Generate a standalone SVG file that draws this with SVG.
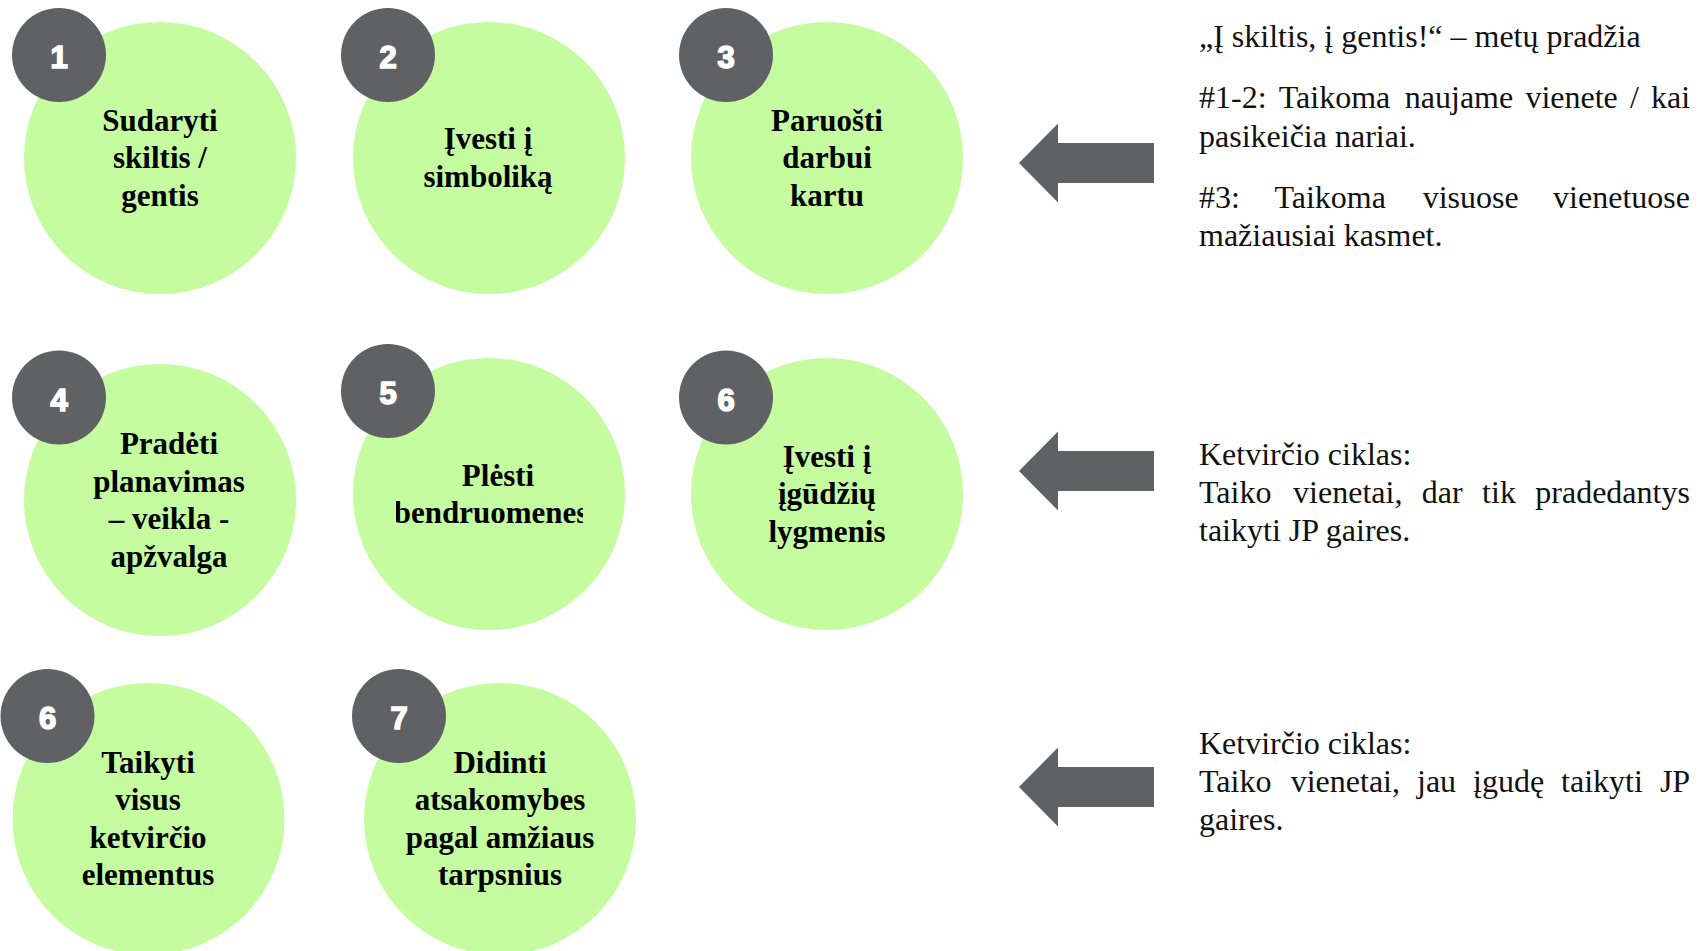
<svg xmlns="http://www.w3.org/2000/svg" width="1704" height="951" viewBox="0 0 1704 951">
  <style>
    .disc { fill: #c6fca0; }
    .badge { fill: #606164; }
    .num { font-family: "Liberation Sans", Arial, sans-serif; font-weight: bold; font-size: 31px; fill: #ffffff; stroke: #ffffff; stroke-width: 1.6; text-anchor: middle; }
    .lbl { font-family: "Liberation Serif", "Times New Roman", serif; font-weight: bold; font-size: 31px; fill: #000000; text-anchor: middle; }
    .note { font-family: "Liberation Serif", "Times New Roman", serif; font-size: 32px; fill: #111111; }
    .arrow { fill: #606164; }
  </style>
  <defs>
    <path id="leftArrow" d="M1019,163 L1058,123.5 L1058,143 L1154,143 L1154,183 L1058,183 L1058,202.5 Z"/>
    <clipPath id="clip5">
      <rect x="396" y="440" width="187" height="105"/>
    </clipPath>
  </defs>

  <rect width="1704" height="951" fill="#ffffff"/>

  <!-- Row 1 -->
  <g id="step1">
    <circle class="disc" cx="160" cy="158" r="136"/>
    <circle class="badge" cx="59" cy="55" r="47"/>
    <text class="num" x="59" y="68">1</text>
    <text class="lbl"><tspan x="160" y="130.5">Sudaryti</tspan><tspan x="160" y="168">skiltis /</tspan><tspan x="160" y="205.5">gentis</tspan></text>
  </g>
  <g id="step2">
    <circle class="disc" cx="489" cy="158" r="136"/>
    <circle class="badge" cx="388" cy="55" r="47"/>
    <text class="num" x="388" y="68">2</text>
    <text class="lbl"><tspan x="488" y="149.3">Įvesti į</tspan><tspan x="488" y="186.8">simboliką</tspan></text>
  </g>
  <g id="step3">
    <circle class="disc" cx="827" cy="158" r="136"/>
    <circle class="badge" cx="726" cy="55" r="47"/>
    <text class="num" x="726" y="68">3</text>
    <text class="lbl"><tspan x="827" y="130.5">Paruošti</tspan><tspan x="827" y="168">darbui</tspan><tspan x="827" y="205.5">kartu</tspan></text>
  </g>

  <!-- Row 2 -->
  <g id="step4">
    <circle class="disc" cx="160" cy="500" r="136"/>
    <circle class="badge" cx="59" cy="397.5" r="47"/>
    <text class="num" x="59" y="410.5">4</text>
    <text class="lbl"><tspan x="169" y="454">Pradėti</tspan><tspan x="169" y="491.5">planavimas</tspan><tspan x="169" y="529">– veikla -</tspan><tspan x="169" y="566.5">apžvalga</tspan></text>
  </g>
  <g id="step5">
    <circle class="disc" cx="489" cy="494" r="136"/>
    <circle class="badge" cx="388" cy="391" r="47"/>
    <text class="num" x="388" y="404">5</text>
    <text class="lbl" clip-path="url(#clip5)"><tspan x="498" y="485.5">Plėsti</tspan><tspan x="491" y="523">bendruomenes</tspan></text>
  </g>
  <g id="step6a">
    <circle class="disc" cx="827" cy="494" r="136"/>
    <circle class="badge" cx="726" cy="397.5" r="47"/>
    <text class="num" x="726" y="410.5">6</text>
    <text class="lbl"><tspan x="827" y="466.5">Įvesti į</tspan><tspan x="827" y="504">įgūdžių</tspan><tspan x="827" y="541.5">lygmenis</tspan></text>
  </g>

  <!-- Row 3 -->
  <g id="step6b">
    <circle class="disc" cx="148.5" cy="819" r="136"/>
    <circle class="badge" cx="47.5" cy="716" r="47"/>
    <text class="num" x="47.5" y="729">6</text>
    <text class="lbl"><tspan x="148" y="772.5">Taikyti</tspan><tspan x="148" y="810">visus</tspan><tspan x="148" y="847.5">ketvirčio</tspan><tspan x="148" y="885">elementus</tspan></text>
  </g>
  <g id="step7">
    <circle class="disc" cx="500" cy="819" r="136"/>
    <circle class="badge" cx="399" cy="716" r="47"/>
    <text class="num" x="399" y="729">7</text>
    <text class="lbl"><tspan x="500" y="772.5">Didinti</tspan><tspan x="500" y="810">atsakomybes</tspan><tspan x="500" y="847.5">pagal amžiaus</tspan><tspan x="500" y="885">tarpsnius</tspan></text>
  </g>

  <!-- Arrows pointing from the notes to each row -->
  <g id="connectors">
    <use href="#leftArrow" class="arrow"/>
    <use href="#leftArrow" class="arrow" transform="translate(0,308)"/>
    <use href="#leftArrow" class="arrow" transform="translate(0,624)"/>
  </g>

  <!-- Notes -->
  <g id="note1">
    <text class="note" x="1199" y="46.5">„Į skiltis, į gentis!“ – metų pradžia</text>
    <text class="note" y="107.5"><tspan x="1199">#1-2:</tspan><tspan x="1278.8">Taikoma</tspan><tspan x="1404.8">naujame</tspan><tspan x="1525.4">vienete</tspan><tspan x="1630">/</tspan><tspan x="1651.1">kai</tspan></text>
    <text class="note" x="1199" y="146.5">pasikeičia nariai.</text>
    <text class="note" y="207.5"><tspan x="1199">#3:</tspan><tspan x="1274.4">Taikoma</tspan><tspan x="1422.7">visuose</tspan><tspan x="1553.1">vienetuose</tspan></text>
    <text class="note" x="1199" y="245.5">mažiausiai kasmet.</text>
  </g>
  <g id="note2">
    <text class="note" x="1199" y="465">Ketvirčio ciklas:</text>
    <text class="note" y="503"><tspan x="1199">Taiko</tspan><tspan x="1293.1">vienetai,</tspan><tspan x="1421.8">dar</tspan><tspan x="1482.1">tik</tspan><tspan x="1535.3">pradedantys</tspan></text>
    <text class="note" x="1199" y="541">taikyti JP gaires.</text>
  </g>
  <g id="note3">
    <text class="note" x="1199" y="754">Ketvirčio ciklas:</text>
    <text class="note" y="792"><tspan x="1199">Taiko</tspan><tspan x="1290.7">vienetai,</tspan><tspan x="1417">jau</tspan><tspan x="1473.1">įgudę</tspan><tspan x="1561.1">taikyti</tspan><tspan x="1659.9">JP</tspan></text>
    <text class="note" x="1199" y="830">gaires.</text>
  </g>
</svg>
